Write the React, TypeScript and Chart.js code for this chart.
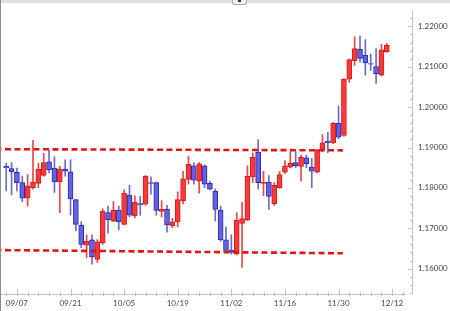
import React, { useEffect, useRef } from 'react';
import { Chart, registerables } from 'chart.js';

Chart.register(...registerables);

// Daily OHLC (EUR/USD style), one entry per trading day
const opens = [
  1.18532, 1.18476, 1.18387, 1.18129, 1.17742, 1.18008, 1.18113, 1.18306, 1.18645, 1.18492,
  1.18145, 1.18468, 1.18395, 1.17710, 1.17081, 1.16581, 1.16710, 1.16226, 1.16637, 1.17387,
  1.17177, 1.17452, 1.17097, 1.17823, 1.17306, 1.17613, 1.17597, 1.18129, 1.18129, 1.17419,
  1.17468, 1.17065, 1.17161, 1.17677, 1.18210, 1.18548, 1.18169, 1.18548, 1.18113, 1.17919,
  1.17452, 1.16710, 1.16452, 1.16355, 1.17121, 1.17202, 1.18274, 1.18887, 1.18113, 1.18145,
  1.17605, 1.18008, 1.18387, 1.18516, 1.18629, 1.18532, 1.18742, 1.18516, 1.18387, 1.18935,
  1.19153, 1.19113, 1.19597, 1.19298, 1.20694, 1.21153, 1.21435, 1.21290, 1.21081, 1.21008,
  1.20790, 1.21371,
];
const highs = [
  1.18613, 1.18629, 1.18492, 1.18290, 1.18331, 1.19177, 1.18613, 1.18855, 1.18935, 1.18774,
  1.18532, 1.18694, 1.18694, 1.17710, 1.17161, 1.16839, 1.16839, 1.16718, 1.17484, 1.17548,
  1.17661, 1.17548, 1.17952, 1.18065, 1.17806, 1.17790, 1.18306, 1.18274, 1.18145, 1.17685,
  1.17565, 1.17242, 1.17903, 1.18411, 1.18790, 1.18629, 1.18629, 1.18573, 1.18169, 1.17968,
  1.17548, 1.17032, 1.16839, 1.17387, 1.17645, 1.18548, 1.18871, 1.19194, 1.18411, 1.18306,
  1.18129, 1.18411, 1.18677, 1.18895, 1.18895, 1.18815, 1.18815, 1.18734, 1.18952, 1.19323,
  1.19379, 1.19621, 1.20024, 1.20710, 1.21194, 1.21742, 1.21758, 1.21677, 1.21315, 1.21452,
  1.21556, 1.21581,
];
const lows = [
  1.17927, 1.17823, 1.17927, 1.17661, 1.17548, 1.17968, 1.18008, 1.18290, 1.18371, 1.17887,
  1.17387, 1.18290, 1.17323, 1.16935, 1.16516, 1.16274, 1.16113, 1.16153, 1.16597, 1.16879,
  1.17161, 1.16960, 1.17081, 1.17282, 1.17258, 1.17323, 1.17565, 1.17847, 1.17323, 1.17282,
  1.16903, 1.17016, 1.17032, 1.17605, 1.18089, 1.18089, 1.17871, 1.18008, 1.17952, 1.17177,
  1.16677, 1.16419, 1.16355, 1.16339, 1.16032, 1.17185, 1.18129, 1.17968, 1.17806, 1.17468,
  1.17565, 1.17984, 1.18355, 1.18492, 1.18492, 1.18169, 1.18492, 1.18008, 1.18371, 1.18895,
  1.18871, 1.19097, 1.19218, 1.19274, 1.20613, 1.21032, 1.21113, 1.20790, 1.20911, 1.20589,
  1.20774, 1.21355,
];
const closes = [
  1.18500, 1.18395, 1.18129, 1.17742, 1.18048, 1.18145, 1.18468, 1.18629, 1.18452, 1.18145,
  1.18468, 1.18411, 1.17726, 1.17097, 1.16597, 1.16677, 1.16290, 1.16661, 1.17419, 1.17210,
  1.17452, 1.17161, 1.17871, 1.17323, 1.17645, 1.17581, 1.18290, 1.18113, 1.17444, 1.17468,
  1.17081, 1.17161, 1.17710, 1.18226, 1.18581, 1.18194, 1.18597, 1.18089, 1.17968, 1.17468,
  1.16710, 1.16452, 1.16403, 1.17202, 1.17242, 1.18290, 1.18758, 1.18129, 1.18145, 1.17790,
  1.18065, 1.18331, 1.18548, 1.18613, 1.18548, 1.18758, 1.18597, 1.18411, 1.18935, 1.19113,
  1.19121, 1.19597, 1.19258, 1.20694, 1.21177, 1.21452, 1.21210, 1.21097, 1.21065, 1.20831,
  1.21420, 1.21532,
];

// X axis labels (at day slots)
const xTickLabels = ['09/07', '09/21', '10/05', '10/19', '11/02', '11/16', '11/30', '12/12'];
const xTickSlots = [2, 12, 22, 32, 42, 52, 62, 72];

// Y axis labels
const yTickValues = [1.16, 1.17, 1.18, 1.19, 1.2, 1.21, 1.22];

// Horizontal range lines (start/end values) and their span in day slots
const resistanceLevel = [1.1896, 1.1893];
const supportLevel = [1.1646, 1.1638];
const levelSpan = [-2, 62.8];

const X_MIN = -0.97;
const X_MAX = 75.7;
const Y_MIN = 1.15371;
const Y_MAX = 1.22387;

const UP_FILL = '#f43a3a';
const UP_EDGE = '#d61c1c';
const UP_WICK = '#e84848';
const DN_FILL = '#6262e4';
const DN_EDGE = '#2b2bae';
const DN_WICK = '#6b6bcf';
const LEVEL_COLOR = '#e01414';

const axisMarks = {
  id: 'axisMarks',
  afterDraw(chart: any) {
    const { ctx, chartArea, scales } = chart;
    const xs = scales.x;
    const ys = scales.y;
    ctx.save();
    ctx.strokeStyle = '#c2c2c2';
    ctx.lineWidth = 1;
    // x axis line
    const yb = Math.round(chartArea.bottom) + 0.5;
    ctx.beginPath();
    ctx.moveTo(chartArea.left, yb);
    ctx.lineTo(xs.getPixelForValue(74.6), yb);
    ctx.stroke();
    ctx.beginPath();
    for (let i = 0; i <= 74; i += 2) {
      const px = Math.round(xs.getPixelForValue(i)) + 0.5;
      const major = xTickSlots.includes(i);
      ctx.moveTo(px, yb - (major ? 5.5 : 2.5));
      ctx.lineTo(px, yb + 1.5);
    }
    ctx.stroke();
    // y axis line
    const xr = Math.round(chartArea.right) + 0.5;
    ctx.beginPath();
    ctx.moveTo(xr, chartArea.top);
    ctx.lineTo(xr, chartArea.bottom - 1);
    ctx.stroke();
    ctx.beginPath();
    const k0 = Math.ceil(Y_MIN / 0.002);
    const k1 = Math.floor(Y_MAX / 0.002);
    for (let k = k0; k <= k1; k++) {
      const py = Math.round(ys.getPixelForValue(k * 0.002)) + 0.5;
      const major = k % 5 === 0;
      ctx.moveTo(xr - (major ? 4.5 : 2.5), py);
      ctx.lineTo(xr + 0.5, py);
    }
    ctx.stroke();
    ctx.restore();
  },
};

function CandleChart() {
  const ref = useRef<HTMLCanvasElement | null>(null);

  useEffect(() => {
    if (!ref.current) return;
    const idx = opens.map((_, i) => i);
    const isUp = (i: number) => closes[i] >= opens[i];

    const chart = new Chart(ref.current, {
      type: 'bar',
      data: {
        datasets: [
          {
            type: 'line',
            data: levelSpan.map((x, k) => ({ x, y: resistanceLevel[k] })),
            borderColor: LEVEL_COLOR,
            borderWidth: 2.6,
            borderDash: [6, 3.5],
            pointRadius: 0,
            order: 0,
          } as any,
          {
            type: 'line',
            data: levelSpan.map((x, k) => ({ x, y: supportLevel[k] })),
            borderColor: LEVEL_COLOR,
            borderWidth: 2.6,
            borderDash: [6, 3.5],
            pointRadius: 0,
            order: 0,
          } as any,
          {
            type: 'bar',
            data: idx.map((i) => ({ x: i, y: [opens[i], closes[i]] })),
            backgroundColor: (c: any) => (isUp(c.dataIndex) ? UP_FILL : DN_FILL),
            borderColor: (c: any) => (isUp(c.dataIndex) ? UP_EDGE : DN_EDGE),
            borderWidth: 1,
            borderSkipped: false,
            barThickness: 5,
            grouped: false,
            order: 1,
          } as any,
          {
            type: 'bar',
            data: idx.map((i) => ({ x: i, y: [lows[i], highs[i]] })),
            backgroundColor: (c: any) => (isUp(c.dataIndex) ? UP_WICK : DN_WICK),
            borderWidth: 0,
            barThickness: 1,
            grouped: false,
            order: 2,
          } as any,
        ],
      },
      options: {
        animation: false,
        responsive: false,
        maintainAspectRatio: false,
        layout: { padding: { left: 1, top: 4, right: 0, bottom: 0 } },
        plugins: { legend: { display: false }, tooltip: { enabled: false } },
        scales: {
          x: {
            type: 'linear',
            min: X_MIN,
            max: X_MAX,
            offset: false,
            grid: { display: false, drawTicks: false },
            border: { display: false },
            afterBuildTicks: (s: any) => {
              s.ticks = xTickSlots.map((v) => ({ value: v }));
            },
            afterFit: (s: any) => {
              s.height = 17;
            },
            ticks: {
              autoSkip: false,
              maxRotation: 0,
              padding: 5,
              color: '#444',
              font: { family: 'Lato', size: 8 },
              callback: (v: any) => {
                const j = xTickSlots.indexOf(Number(v));
                return j >= 0 ? xTickLabels[j] : '';
              },
            },
          },
          y: {
            position: 'right',
            min: Y_MIN,
            max: Y_MAX,
            grid: { display: false, drawTicks: false },
            border: { display: false },
            afterBuildTicks: (s: any) => {
              s.ticks = yTickValues.map((v) => ({ value: v }));
            },
            afterFit: (s: any) => {
              s.width = 38;
            },
            ticks: {
              padding: 6,
              color: '#444',
              font: { family: 'Lato', size: 8 },
              callback: (v: any) => Number(v).toFixed(5),
            },
          },
        },
      } as any,
      plugins: [axisMarks],
    });
    return () => chart.destroy();
  }, []);

  return <canvas ref={ref} width={450} height={311} style={{ position: 'absolute', left: 0, top: 0 }} />;
}

export default function App() {
  return (
    <div style={{ position: 'fixed', left: 0, top: 0, width: 450, height: 311, background: '#fff', overflow: 'hidden' }}>
      <CandleChart />
      <div style={{ position: 'absolute', left: 0, top: 0, width: 450, height: 3, background: '#dedede' }} />
      <div
        style={{
          position: 'absolute', left: 232, top: 0, width: 13, height: 4,
          background: '#f2f2f2', border: '1px solid #a8a8a8', borderTop: 'none', borderRadius: '0 0 3px 3px',
        }}
      >
        <div style={{ position: 'absolute', left: 5, top: 0, width: 3, height: 2, background: '#333' }} />
      </div>
      <div style={{ position: 'absolute', left: 0, top: 0, width: 1, height: 311, background: '#8c8c8c' }} />
    </div>
  );
}
